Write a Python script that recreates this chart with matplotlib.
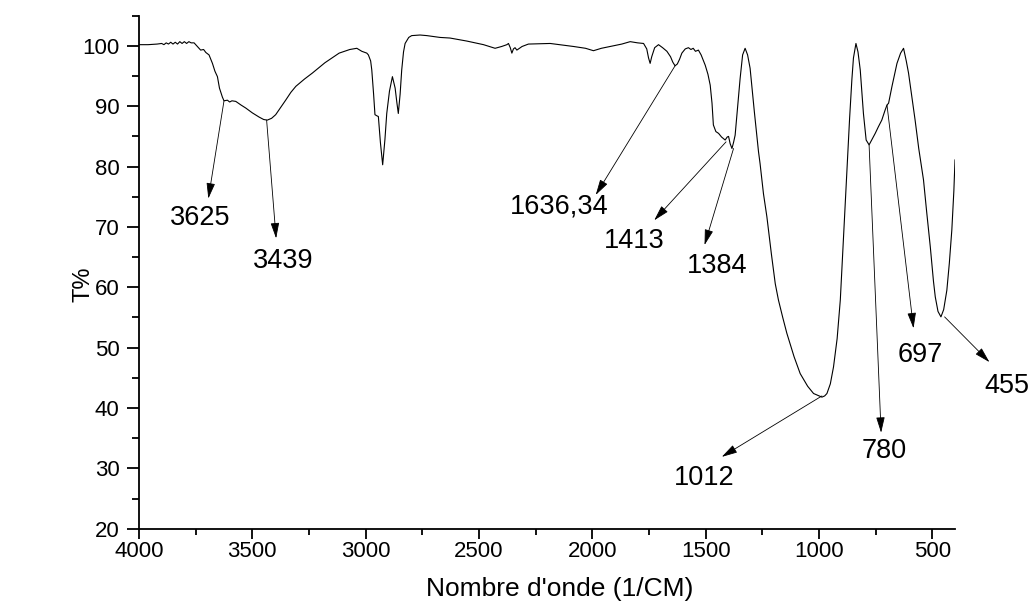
import matplotlib
matplotlib.use("Agg")
import matplotlib.pyplot as plt
from matplotlib.ticker import MultipleLocator
from matplotlib.patches import ArrowStyle

# ---- data -------------------------------------------------------------
wavenumber = [
    4000, 3960, 3920, 3900, 3890, 3880, 3870, 3860, 3850, 3840, 3830, 3820,
    3810, 3800, 3790, 3780, 3770, 3757, 3740, 3728, 3715, 3705, 3691, 3676,
    3665, 3654, 3645, 3640, 3632, 3625, 3610, 3600, 3590, 3573, 3550, 3529,
    3500, 3470, 3450, 3434, 3415, 3397, 3375, 3353, 3330, 3308, 3270, 3235,
    3180, 3117, 3070, 3039, 3017, 2995, 2988, 2978, 2973, 2965, 2959, 2950,
    2944, 2935, 2925, 2915, 2907, 2895, 2882, 2870, 2862, 2856, 2848, 2841,
    2833, 2826, 2810, 2797, 2760, 2730, 2672, 2628, 2554, 2480, 2429, 2400,
    2377, 2370, 2362, 2355, 2348, 2341, 2333, 2310, 2282, 2186, 2083, 2030,
    1995, 1960, 1921, 1870, 1833, 1800, 1774, 1760, 1752, 1745, 1738, 1725,
    1708, 1690, 1671, 1655, 1645, 1635, 1625, 1615, 1605, 1590, 1576, 1565,
    1555, 1545, 1532, 1520, 1502, 1490, 1480, 1472, 1466, 1455, 1443, 1430,
    1414, 1405, 1399, 1392, 1384, 1377, 1370, 1360, 1348, 1337, 1326, 1315,
    1304, 1285, 1267, 1260, 1245, 1230, 1210, 1193, 1179, 1160, 1142, 1110,
    1083, 1050, 1024, 1000, 987, 975, 965, 950, 936, 920, 906, 895, 877,
    865, 855, 848, 837, 828, 818, 810, 804, 792, 779, 765, 752, 738, 723,
    708, 700, 693, 678, 665, 656, 640, 627, 615, 605, 590, 576, 560, 539,
    525, 509, 495, 487, 475, 462, 450, 436, 425, 414, 405, 400,
]
transmittance = [
    100.2, 100.2, 100.3, 100.4, 100.2, 100.5, 100.3, 100.6, 100.3, 100.6, 100.3, 100.7,
    100.4, 100.7, 100.4, 100.7, 100.5, 100.5, 99.8, 99.3, 99.4, 98.9, 98.5, 97.1,
    95.8, 94.9, 93.0, 92.4, 91.5, 90.9, 91.0, 90.7, 90.9, 90.8, 90.2, 89.7,
    88.9, 88.2, 87.8, 87.7, 88.0, 88.6, 89.8, 91.0, 92.3, 93.3, 94.5, 95.5,
    97.2, 98.8, 99.4, 99.6, 99.1, 98.8, 98.5, 97.5, 96.0, 92.0, 88.6, 88.4,
    88.3, 84.0, 80.3, 84.5, 88.8, 92.5, 94.9, 93.0, 90.5, 88.8, 92.0, 96.0,
    99.0, 100.4, 101.4, 101.7, 101.8, 101.7, 101.4, 101.3, 100.8, 100.2, 99.6, 99.9,
    100.2, 100.4, 99.7, 98.8, 99.5, 99.7, 99.3, 99.9, 100.3, 100.4, 99.9, 99.6,
    99.2, 99.6, 99.9, 100.3, 100.7, 100.5, 100.4, 99.5, 98.0, 97.1, 98.2, 99.7,
    100.2, 99.7, 99.1, 98.2, 97.3, 96.7, 97.0, 97.8, 98.8, 99.5, 99.7, 99.4,
    99.6, 99.1, 99.3, 98.5, 96.8, 95.3, 93.5, 90.5, 86.9, 85.8, 85.5, 84.9,
    84.4, 84.9, 85.0, 83.8, 83.0, 84.0, 85.2, 89.5, 94.6, 98.5, 99.6, 98.5,
    96.3, 89.0, 82.5, 80.5, 75.5, 71.7, 65.5, 60.6, 57.9, 55.0, 52.4, 48.5,
    45.7, 43.6, 42.4, 42.0, 41.8, 42.0, 42.4, 44.0, 46.8, 51.5, 57.9, 66.0, 78.9,
    88.0, 94.4, 98.0, 100.4, 99.0, 96.0, 92.0, 88.8, 84.4, 83.6, 84.6, 85.5, 86.6, 87.7,
    89.4, 90.2, 90.5, 93.3, 95.5, 97.1, 98.8, 99.6, 97.5, 95.5, 91.5, 87.7, 83.0, 77.8,
    72.5, 66.7, 61.0, 58.4, 56.0, 55.1, 56.3, 59.5, 64.0, 69.5, 76.0, 81.1,
]

peak_labels = ["3625", "3439", "1636,34", "1413", "1384", "1012", "780", "697", "455"]
arrow_start = [(3625, 90.9), (3437, 87.7), (1635, 96.7), (1410, 84.1), (1377, 83.0),
               (987, 42.0), (779, 83.6), (700, 90.2), (446, 55.1)]
arrow_tip = [(3694, 74.7), (3395, 68.1), (1985, 75.3), (1727, 71.1), (1505, 67.0),
             (1429, 31.9), (726, 35.9), (583, 53.2), (248, 47.6)]
label_anchor = [(3731, 70.3), (3362, 63.2), (2146, 72.3), (1815, 66.5), (1449, 62.4),
                (1507, 27.2), (712, 31.7), (553, 47.6), (171, 42.5)]

x_ticks = [4000, 3500, 3000, 2500, 2000, 1500, 1000, 500]
y_ticks = [20, 30, 40, 50, 60, 70, 80, 90, 100]

# ---- figure -----------------------------------------------------------
plt.rcParams['font.family'] = ['Liberation Sans', 'DejaVu Sans']

fig = plt.figure(figsize=(10.32, 6.04), dpi=100)
ax = fig.add_axes([139 / 1032, 1 - 528.7 / 604, (955 - 139) / 1032, (528.7 - 15.7) / 604])

ax.plot(wavenumber, transmittance, color='black', lw=0.8)

ax.set_xlim(4000, 400)
ax.set_ylim(20, 105)
ax.set_xticks(x_ticks)
ax.set_yticks(y_ticks)
ax.xaxis.set_minor_locator(MultipleLocator(250))
ax.yaxis.set_minor_locator(MultipleLocator(5))

for s in ['top', 'right']:
    ax.spines[s].set_visible(False)
for s in ['left', 'bottom']:
    ax.spines[s].set_linewidth(1.3)

ax.tick_params(axis='both', which='major', direction='out', width=1.3, labelsize=16)
ax.tick_params(axis='y', which='major', length=9, pad=5)
ax.tick_params(axis='y', which='minor', length=4.8, width=1.3)
ax.tick_params(axis='x', which='major', length=7.5, pad=1)
ax.tick_params(axis='x', which='minor', length=4, width=1.3)

arrow_style = ArrowStyle('-|>', head_length=0.8, head_width=0.22)
for lab, start, tip, pos in zip(peak_labels, arrow_start, arrow_tip, label_anchor):
    ax.annotate('', xy=tip, xytext=start, annotation_clip=False,
                arrowprops=dict(arrowstyle=arrow_style, mutation_scale=12,
                                color='black', lw=0.6, shrinkA=0, shrinkB=0))
    ax.text(pos[0], pos[1], lab, ha='center', va='baseline', fontsize=19.5,
            clip_on=False)

fig.text(560 / 1032, (604 - 596) / 604, "Nombre d'onde (1/CM)", ha='center',
         va='baseline', fontsize=19)
fig.text(84 / 1032, 1 - 284 / 604, "T%", ha='center', va='center',
         rotation=90, fontsize=17)

fig.savefig('out.png', dpi=100)
